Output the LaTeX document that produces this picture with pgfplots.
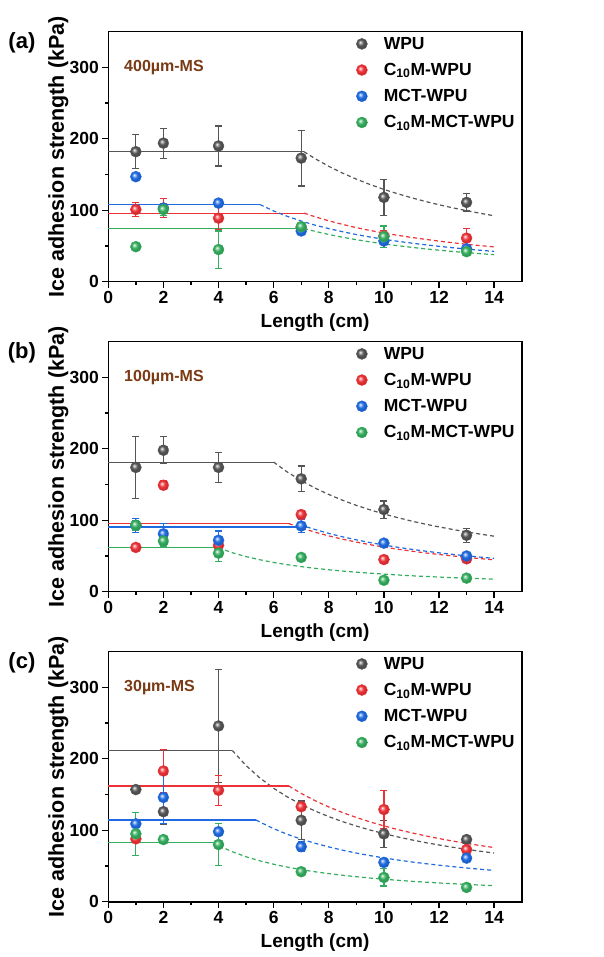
\documentclass[border=0pt]{standalone}
\usepackage{fontspec}
\setmainfont{Liberation Sans}
\usepackage{pgfplots}
\pgfplotsset{compat=1.18}

\definecolor{cwpu}{HTML}{555555}
\definecolor{cred}{HTML}{EC3237}
\definecolor{cblue}{HTML}{1F6AE0}
\definecolor{cgreen}{HTML}{35AD5E}
\definecolor{cbrown}{HTML}{7A3A14}

% brighter glossy sphere for the data marks
\makeatletter
\pgfdeclareradialshading[tikz@ball]{ball}{\pgfqpoint{-8bp}{8bp}}{%
  color(0bp)=(tikz@ball!5!white);
  color(5bp)=(tikz@ball!45!white);
  color(13bp)=(tikz@ball);
  color(22bp)=(tikz@ball!88!black);
  color(50bp)=(tikz@ball!70!black)}
\makeatother

\newcommand{\bigbf}{\bfseries\fontsize{17.5}{19}\selectfont}

\pgfplotsset{
  panel/.style={
    width=413.4pt, height=250pt, scale only axis,
    xmin=0, xmax=15, ymin=0, ymax=350,
    xtick={0,2,...,14}, ytick={0,100,200,300},
    minor xtick={1,3,...,13}, minor ytick={50,150,250},
    xtick pos=bottom, ytick pos=left, tick align=outside,
    major tick length=6pt, minor tick length=3.5pt,
    every tick/.append style={black, line width=1.3pt},
    every minor tick/.append style={black, line width=1.3pt},
    axis line style={line width=1.6pt},
    tick label style={font=\bigbf},
    /pgf/number format/assume math mode=true,
    xlabel={Length (cm)}, ylabel={Ice adhesion strength (kPa)},
    every axis x label/.style={at={(axis description cs:0.5,-0.164)}, anchor=center,
      font=\bfseries\fontsize{19}{21}\selectfont},
    every axis y label/.style={at={(axis description cs:-0.121,0.5)}, anchor=center, rotate=90,
      font=\bfseries\fontsize{21.5}{23}\selectfont},
    legend style={draw=none, fill=none, font=\bigbf, at={(rel axis cs:0.585,0.995)},
      anchor=north west, legend cell align=left, row sep=8.5pt},
    legend image code/.code={\draw[##1] plot coordinates {(0.3cm,0cm)};\path[draw=none] (0cm,0cm) (1.0cm,0cm);},
    clip=false,
  },
  fit/.style={forget plot, no marks, line width=1.2pt, color=#1},
  tail/.style={forget plot, no marks, line width=1.2pt, color=#1, dash pattern=on 4pt off 3pt},
  ballkey/.style={only marks, color=#1, mark=ball, mark size=5.5pt, mark options={ball color=#1, draw=#1}},
  ser/.style={forget plot, only marks, color=#1, mark=ball, mark size=5.5pt,
    mark options={ball color=#1, draw=#1},
    error bars/y dir=both, error bars/y explicit, error bars/error mark=|,
    error bars/error bar style={line width=1.2pt, #1},
    error bars/error mark options={mark size=3.5pt, line width=1.2pt, #1}},
}
\newcommand{\panellegend}{%
  \addlegendimage{ballkey=cwpu}\addlegendentry{WPU}
  \addlegendimage{ballkey=cred}\addlegendentry{C\textsubscript{10}M-WPU}
  \addlegendimage{ballkey=cblue}\addlegendentry{MCT-WPU}
  \addlegendimage{ballkey=cgreen}\addlegendentry{C\textsubscript{10}M-MCT-WPU}}

\begin{document}
\begin{tikzpicture}
\useasboundingbox (0pt,0pt) rectangle (603pt,957pt);

% ---------------- (a) 400 um mesh ----------------
\begin{axis}[panel, at={(108.3pt,675.3pt)}, anchor=south west]
\panellegend
\addplot[fit=cwpu] coordinates {(0,182) (7.1,182)};
\addplot[tail=cwpu] coordinates {(7.1,182) (7.5,172.3) (8,161.5) (8.5,152.0) (9,143.6) (9.5,136.0) (10,129.2) (10.5,123.1) (11,117.5) (11.5,112.4) (12,107.7) (12.5,103.4) (13,99.4) (13.5,95.7) (14,92.3)};
\addplot[fit=cred] coordinates {(0,96) (7.1,96)};
\addplot[tail=cred] coordinates {(7.1,96) (7.5,90.9) (8,85.2) (8.5,80.2) (9,75.7) (9.5,71.7) (10,68.2) (10.5,64.9) (11,62.0) (11.5,59.3) (12,56.8) (12.5,54.5) (13,52.4) (13.5,50.5) (14,48.7)};
\addplot[fit=cblue] coordinates {(0,108) (5.5,108)};
\addplot[tail=cblue] coordinates {(5.5,108) (6,99) (6.5,91.4) (7,84.9) (7.5,79.2) (8,74.3) (8.5,69.9) (9,66) (9.5,62.5) (10,59.4) (10.5,56.6) (11,54) (11.5,51.7) (12,49.5) (12.5,47.5) (13,45.7) (13.5,44) (14,42.4)};
\addplot[fit=cgreen] coordinates {(0,74.5) (7.1,74.5)};
\addplot[tail=cgreen] coordinates {(7.1,74.5) (7.5,70.5) (8,66.1) (8.5,62.2) (9,58.8) (9.5,55.7) (10,52.9) (10.5,50.4) (11,48.1) (11.5,46.0) (12,44.1) (12.5,42.3) (13,40.7) (13.5,39.2) (14,37.8)};

\addplot[ser=cwpu] coordinates {(1,182) +- (0,24) (2,194) +- (0,21) (4,190) +- (0,28) (7,173) +- (0,39) (10,118) +- (0,25) (13,111) +- (0,12)};
\addplot[ser=cred] coordinates {(1,101) +- (0,10) (2,103) +- (0,13) (4,89) +- (0,16) (7,76) +- (0,5) (10,64) +- (0,8) (13,61) +- (0,14)};
\addplot[ser=cblue] coordinates {(1,147) +- (0,5) (2,103) +- (0,6) (4,110) +- (0,5) (7,71) +- (0,4) (10,57) +- (0,4) (13,46) +- (0,4)};
\addplot[ser=cgreen] coordinates {(1,49) +- (0,4) (2,101) +- (0,8) (4,45) +- (0,26) (7,77) +- (0,6) (10,63) +- (0,15) (13,42) +- (0,4)};

\node[anchor=west, text=cbrown, font=\bfseries\fontsize{16}{18}\selectfont] at (axis cs:0.45,300) {400µm-MS};
\node[font=\bfseries\fontsize{22}{24}\selectfont] at (rel axis cs:-0.209,0.955) {(a)};
\end{axis}

% ---------------- (b) 100 um mesh ----------------
\begin{axis}[panel, at={(108.3pt,365.3pt)}, anchor=south west]
\panellegend
\addplot[fit=cwpu] coordinates {(0,181.4) (6,181.4)};
\addplot[tail=cwpu] coordinates {(6,181.4) (6.5,167.4) (7,155.5) (7.5,145.1) (8,136.1) (8.5,128.0) (9,120.9) (9.5,114.6) (10,108.8) (10.5,103.7) (11,98.9) (11.5,94.6) (12,90.7) (12.5,87.1) (13,83.7) (13.5,80.6) (14,77.7)};
\addplot[fit=cred] coordinates {(0,95.4) (6.55,95.4)};
\addplot[tail=cred] coordinates {(6.55,95.4) (7,89.3) (7.5,83.3) (8,78.1) (8.5,73.5) (9,69.4) (9.5,65.8) (10,62.5) (10.5,59.5) (11,56.8) (11.5,54.3) (12,52.1) (12.5,50.0) (13,48.1) (13.5,46.3) (14,44.6)};
\addplot[fit=cblue] coordinates {(0,90.7) (7.2,90.7)};
\addplot[tail=cblue] coordinates {(7.2,90.7) (7.5,87.1) (8,81.6) (8.5,76.8) (9,72.6) (9.5,68.7) (10,65.3) (10.5,62.2) (11,59.4) (11.5,56.8) (12,54.4) (12.5,52.2) (13,50.2) (13.5,48.4) (14,46.6)};
\addplot[fit=cgreen] coordinates {(0,61.4) (4,61.4)};
\addplot[tail=cgreen] coordinates {(4,61.4) (4.5,54.6) (5,49.1) (5.5,44.7) (6,40.9) (6.5,37.8) (7,35.1) (7.5,32.7) (8,30.7) (8.5,28.9) (9,27.3) (9.5,25.9) (10,24.6) (10.5,23.4) (11,22.3) (11.5,21.4) (12,20.5) (12.5,19.6) (13,18.9) (13.5,18.2) (14,17.5)};

\addplot[ser=cwpu] coordinates {(1,174) +- (0,43) (2,198) +- (0,19) (4,174) +- (0,21) (7,158) +- (0,18) (10,115) +- (0,12) (13,79) +- (0,10)};
\addplot[ser=cred] coordinates {(1,62) +- (0,4) (2,149) +- (0,6) (4,65) +- (0,5) (7,108) +- (0,5) (10,45) +- (0,4) (13,46) +- (0,4)};
\addplot[ser=cblue] coordinates {(1,93) +- (0,10) (2,81) +- (0,14) (4,72) +- (0,13) (7,92) +- (0,9) (10,68) +- (0,4) (13,50) +- (0,5)};
\addplot[ser=cgreen] coordinates {(1,93) +- (0,7) (2,71) +- (0,7) (4,54) +- (0,12) (7,48) +- (0,4) (10,16) +- (0,4) (13,19) +- (0,4)};

\node[anchor=west, text=cbrown, font=\bfseries\fontsize{16}{18}\selectfont] at (axis cs:0.45,300) {100µm-MS};
\node[font=\bfseries\fontsize{22}{24}\selectfont] at (rel axis cs:-0.209,0.955) {(b)};
\end{axis}

% ---------------- (c) 30 um mesh ----------------
\begin{axis}[panel, at={(108.3pt,55.3pt)}, anchor=south west]
\panellegend
\addplot[fit=cwpu] coordinates {(0,211.7) (4.5,211.7)};
\addplot[tail=cwpu] coordinates {(4.5,211.7) (5,190.5) (5.5,173.2) (6,158.8) (6.5,146.6) (7,136.1) (7.5,127.0) (8,119.1) (8.5,112.1) (9,105.9) (9.5,100.3) (10,95.3) (10.5,90.7) (11,86.6) (11.5,82.8) (12,79.4) (12.5,76.2) (13,73.3) (13.5,70.6) (14,68.1)};
\addplot[fit=cred] coordinates {(0,162) (6.55,162)};
\addplot[tail=cred] coordinates {(6.55,162) (7,151.6) (7.5,141.5) (8,132.6) (8.5,124.8) (9,117.9) (9.5,111.7) (10,106.1) (10.5,101.0) (11,96.5) (11.5,92.3) (12,88.4) (12.5,84.9) (13,81.6) (13.5,78.6) (14,75.8)};
\addplot[fit=cblue] coordinates {(0,114.4) (5.36,114.4)};
\addplot[tail=cblue] coordinates {(5.36,114.4) (5.5,111.5) (6,102.2) (6.5,94.3) (7,87.6) (7.5,81.8) (8,76.7) (8.5,72.1) (9,68.1) (9.5,64.5) (10,61.3) (10.5,58.4) (11,55.7) (11.5,53.3) (12,51.1) (12.5,49.1) (13,47.2) (13.5,45.4) (14,43.8)};
\addplot[fit=cgreen] coordinates {(0,82.8) (3.8,82.8)};
\addplot[tail=cgreen] coordinates {(3.8,82.8) (4,78.7) (4.5,69.9) (5,62.9) (5.5,57.2) (6,52.4) (6.5,48.4) (7,44.9) (7.5,41.9) (8,39.3) (8.5,37.0) (9,35.0) (9.5,33.1) (10,31.5) (10.5,30.0) (11,28.6) (11.5,27.4) (12,26.2) (12.5,25.2) (13,24.2) (13.5,23.3) (14,22.5)};

\addplot[ser=cwpu] coordinates {(1,157) +- (0,5) (2,126) +- (0,18) (4,246) +- (0,79) (7,114) +- (0,27) (10,95) +- (0,19) (13,87) +- (0,4)};
\addplot[ser=cred] coordinates {(1,88) +- (0,4) (2,183) +- (0,30) (4,156) +- (0,21) (7,133) +- (0,5) (10,129) +- (0,27) (13,73) +- (0,8)};
\addplot[ser=cblue] coordinates {(1,109) +- (0,5) (2,146) +- (0,36) (4,98) +- (0,12) (7,77) +- (0,7) (10,55) +- (0,6) (13,61) +- (0,5)};
\addplot[ser=cgreen] coordinates {(1,95) +- (0,30) (2,87) +- (0,4) (4,80) +- (0,29) (7,42) +- (0,5) (10,34) +- (0,12) (13,20) +- (0,4)};

\node[anchor=west, text=cbrown, font=\bfseries\fontsize{16}{18}\selectfont] at (axis cs:0.45,300) {30µm-MS};
\node[font=\bfseries\fontsize{22}{24}\selectfont] at (rel axis cs:-0.209,0.955) {(c)};
\end{axis}
\end{tikzpicture}
\end{document}
